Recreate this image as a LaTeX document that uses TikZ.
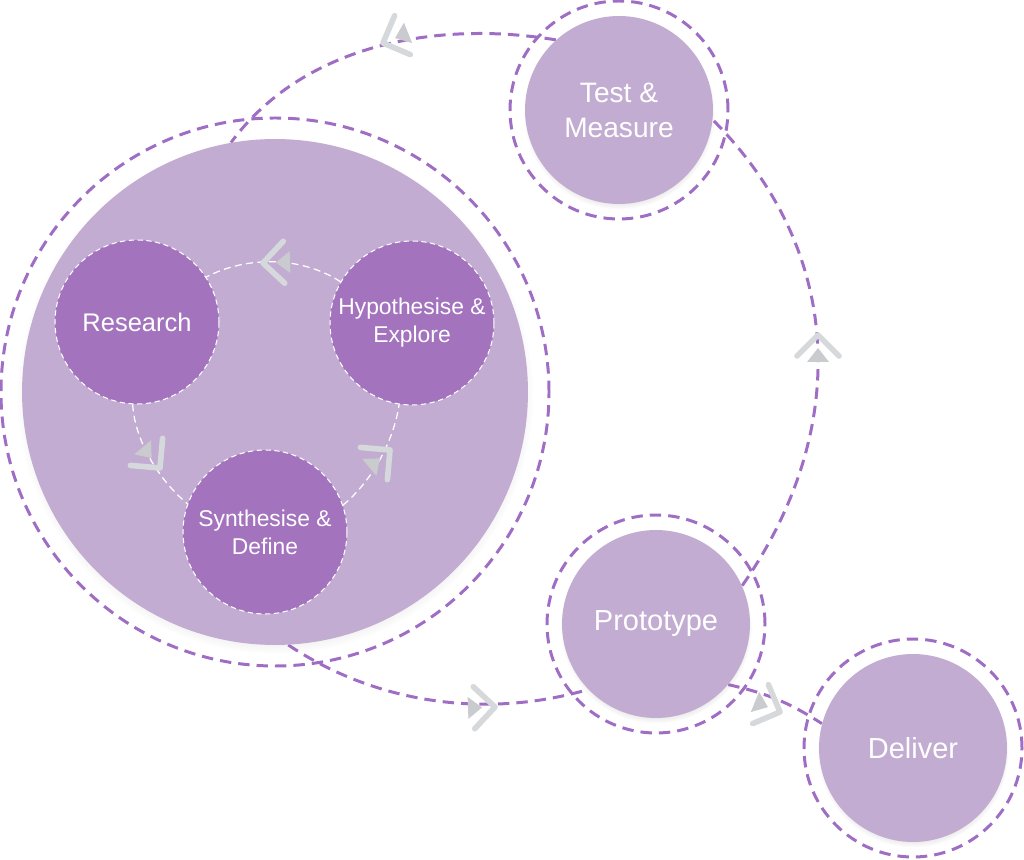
\documentclass[tikz,border=0pt]{standalone}
\usepackage{fontspec}
\setmainfont{Liberation Sans}
\usetikzlibrary{shadows, backgrounds}
\definecolor{lilac}{HTML}{C3ACD1}
\definecolor{plum}{HTML}{A373BE}
\definecolor{loopline}{HTML}{9F6DC4}
\definecolor{chevgray}{HTML}{D6D9DC}

\begin{document}
\begin{tikzpicture}[
        x=0.02cm, y=0.02cm,
        stage/.style={circle, fill=lilac, text=white, inner sep=0pt, minimum size=3.76cm, align=center,
            font=\fontsize{16}{20}\selectfont,
            circular drop shadow={shadow xshift=0pt, shadow yshift=-2pt, shadow scale=1.02, opacity=0.35}},
        phase/.style={circle, fill=plum, draw=white, line width=0.6pt, dash pattern=on 3pt off 2pt,
            text=white, inner sep=0pt, minimum size=3.28cm, align=center, font=\fontsize{13}{16}\selectfont},
        stagering/.style={draw=loopline, line width=1.7pt, dash pattern=on 6.5pt off 4pt},
        cycleline/.style={draw=loopline, line width=1.7pt, dash pattern=on 6.5pt off 4pt},
        innerline/.style={draw=white, line width=0.7pt, dash pattern=on 4pt off 2.5pt},
        chev/.pic={
            \fill[chevgray!85!gray] (-13,0) -- (-27,11) -- (-27,-11) -- cycle;
            \draw[chevgray, line width=3.2pt, line cap=round, line join=round] (-21,21) -- (0,0) -- (-21,-21);
        }
    ]
    \useasboundingbox (0,0) rectangle (1024,859);

    % outer stages
    \node[stage, minimum size=10.12cm] (core) at (275,467) {};
    \node[stage] (test) at (619,749) {Test \&\\Measure};
    \node[stage, font=\fontsize{16.5}{20}\selectfont] (proto) at (656,235) {Prototype};
    \node[stage, font=\fontsize{16.5}{20}\selectfont] (deliver) at (913,111) {Deliver};

    % inner cycle
    \node[phase, font=\fontsize{14.5}{18}\selectfont] (research) at (137,537) {Research};
    \node[phase] (hypo) at (412,536) {Hypothesise \&\\Explore};
    \node[phase] (synth) at (265,327) {Synthesise \&\\Define};

    \begin{pgfonlayer}{background}
        \draw[stagering] (core.center) circle[radius=274];
        \draw[stagering] (test.center) circle[radius=109];
        \draw[stagering] (proto.center) circle[radius=109];
        \draw[stagering] (deliver.center) circle[radius=109];
        \draw[cycleline] (test.132) .. controls +(-126,21) and +(69,94) .. (core.100);
        \draw[cycleline] (proto.24) .. controls +(103,147) and +(138,-139) .. (test.-6);
        \draw[cycleline] (core.-87) .. controls +(90,-60) and +(-100,-29) .. (proto.224);
        \draw[cycleline] (proto.-40) to[bend left=10] (deliver.165);
    \end{pgfonlayer}

    \draw[innerline] (research.-93) .. controls +(2,-35) and +(-30,25) .. (synth.160);
    \draw[innerline] (synth.19) .. controls +(30,25) and +(-5,-35) .. (hypo.-99);
    \draw[innerline] (hypo.150) .. controls +(-40,26) and +(40,21) .. (research.33);

    % direction marks
    \pic[rotate=202] at (383,816) {chev};
    \pic[rotate=90] at (818,524) {chev};
    \pic[rotate=2] at (495,152) {chev};
    \pic[rotate=-22] at (780,147) {chev};
    \pic[rotate=182] at (263,596) {chev};
    \pic[rotate=-50] at (160,391) {chev};
    \pic[rotate=40] at (390,409) {chev};
\end{tikzpicture}
\end{document}
